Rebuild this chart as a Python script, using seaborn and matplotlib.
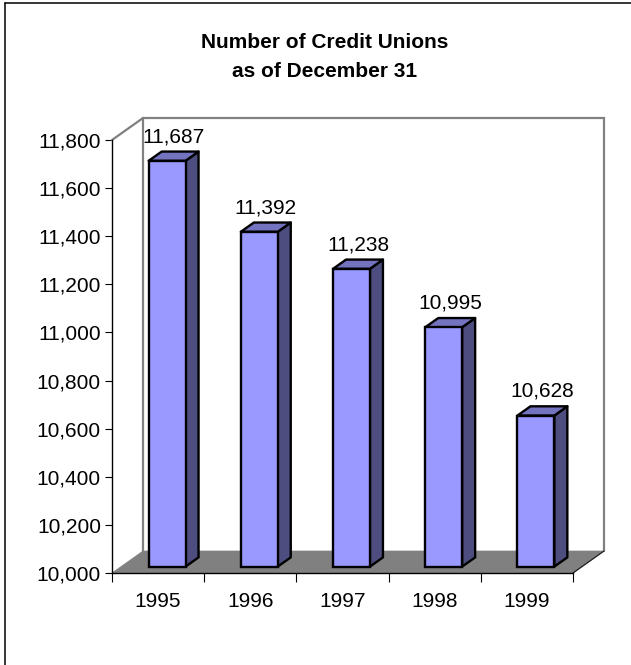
import matplotlib
matplotlib.use("Agg")
import numpy as np
import matplotlib.pyplot as plt
from matplotlib.patches import Polygon
from matplotlib.lines import Line2D
from matplotlib.transforms import Affine2D, IdentityTransform
from matplotlib.ticker import FuncFormatter
import seaborn as sns

# ---- data -------------------------------------------------------------
YEARS = ["1995", "1996", "1997", "1998", "1999"]
COUNTS = [11687, 11392, 11238, 10995, 10628]
Y_TICKS = [10000, 10200, 10400, 10600, 10800, 11000, 11200, 11400, 11600, 11800]
TITLE_LINES = ["Number of Credit Unions", "as of December 31"]

# ---- style ------------------------------------------------------------
W, H, DPI = 631, 665, 100
sns.set_theme(style="ticks")
plt.rcParams["font.family"] = ["Liberation Sans", "DejaVu Sans"]

FRONT = "#9999FF"
TOP = "#7373BF"
SIDE = "#4D4D80"
GREY = "#808080"
DEPTH = np.array([31.0, 22.0])   # pixel shift from front plane to back wall
BAR_WIDTH = 0.4
D0, D1 = 0.29, 0.71               # bar front / back depth fractions
BASE, CEIL = Y_TICKS[0], Y_TICKS[-1]
LABEL_SIZE = 15
EDGE_LW = 1.7

fig = plt.figure(figsize=(W / DPI, H / DPI), dpi=DPI)
fig.patch.set_facecolor("white")

# front plane of the 3-D box, in pixels
L, R, T, B = 112, 573, 140, 573
ax = fig.add_axes([L / W, 1 - B / H, (R - L) / W, (B - T) / H])
ax.patch.set_visible(False)

sns.barplot(x=YEARS, y=COUNTS, width=BAR_WIDTH, color=FRONT, saturation=1,
            edgecolor="black", linewidth=EDGE_LW, ax=ax, zorder=6)

ax.set_xlim(-0.5, len(YEARS) - 0.5)
ax.set_ylim(BASE, CEIL)


def proj(x, y, d):
    """Data point (x, y) pushed back to depth fraction d, in display pixels."""
    return ax.transData.transform((x, y)) + d * DEPTH


def add_poly(pts, z, **kw):
    p = Polygon(np.array(pts), closed=True, transform=IdentityTransform(),
                clip_on=False, zorder=z, **kw)
    ax.add_patch(p)


def add_line(pts, z, **kw):
    pts = np.array(pts)
    ln = Line2D(pts[:, 0], pts[:, 1], transform=IdentityTransform(),
                clip_on=False, zorder=z, **kw)
    ax.add_line(ln)


x_lo, x_hi = -0.5, len(YEARS) - 0.5

# back wall outline and the top edge of the side wall
add_line([proj(x_lo, BASE, 1), proj(x_lo, CEIL, 1), proj(x_hi, CEIL, 1),
          proj(x_hi, BASE, 1)], 1, color=GREY, lw=1.6, solid_joinstyle="miter")
add_line([proj(x_lo, CEIL, 0), proj(x_lo, CEIL, 1)], 1, color=GREY, lw=1.6)

# floor
add_poly([proj(x_lo, BASE, 0), proj(x_hi, BASE, 0), proj(x_hi, BASE, 1),
          proj(x_lo, BASE, 1)], 2, facecolor=GREY, edgecolor=GREY, lw=0.5)
add_line([proj(x_hi, BASE, 0), proj(x_hi, BASE, 1)], 2.2, color="#202020", lw=0.9)

# front faces: rest on the floor and sit at depth D0
shift = Affine2D().translate(*(D0 * DEPTH))
for patch, v in zip(ax.patches[:len(COUNTS)], COUNTS):
    patch.set_y(BASE)
    patch.set_height(v - BASE)
    patch.set_transform(ax.transData + shift)
    patch.set_clip_on(False)

# side and top faces, plus value labels
for i, v in enumerate(COUNTS):
    x0, x1 = i - BAR_WIDTH / 2, i + BAR_WIDTH / 2
    add_poly([proj(x1, BASE, D0), proj(x1, v, D0), proj(x1, v, D1),
              proj(x1, BASE, D1)], 5, facecolor=SIDE, edgecolor="black",
             lw=EDGE_LW, joinstyle="round")
    add_poly([proj(x0, v, D0), proj(x1, v, D0), proj(x1, v, D1),
              proj(x0, v, D1)], 5, facecolor=TOP, edgecolor="black",
             lw=EDGE_LW, joinstyle="round")
    ax.annotate(f"{v:,}", xy=(i, v), xytext=(0.5 * DEPTH[0], 25),
                textcoords="offset pixels", ha="center", va="baseline",
                fontsize=LABEL_SIZE, color="black", annotation_clip=False,
                zorder=8)

# axes, ticks and labels
for side in ("top", "right"):
    ax.spines[side].set_visible(False)
for side in ("left", "bottom"):
    ax.spines[side].set_color("black")
    ax.spines[side].set_linewidth(1.0)
    ax.spines[side].set_zorder(3)

ax.set_yticks(Y_TICKS)
ax.yaxis.set_major_formatter(FuncFormatter(lambda v, _: f"{int(v):,}"))
ax.tick_params(axis="y", which="major", left=True, direction="out", length=5,
               width=0.8, color="black", pad=3, labelsize=LABEL_SIZE,
               labelcolor="black")

ax.set_xticks(range(len(YEARS)))
ax.set_xticklabels(YEARS)
ax.set_xticks(np.arange(x_lo, x_hi + 0.01, 1.0), minor=True)
ax.tick_params(axis="x", which="major", bottom=True, length=0, pad=13.5,
               labelsize=LABEL_SIZE, labelcolor="black")
ax.tick_params(axis="x", which="minor", bottom=True, direction="out",
               length=6.5, width=0.8, color="black")
ax.set_xlabel("")
ax.set_ylabel("")

# title
fig.text(325 / W, 1 - 48 / H, TITLE_LINES[0], ha="center", va="baseline",
         fontsize=15, fontweight="bold", color="black")
fig.text(325 / W, 1 - 77 / H, TITLE_LINES[1], ha="center", va="baseline",
         fontsize=15, fontweight="bold", color="black")

# chart-area frame (top and left edges)
fig.add_artist(Line2D([4.5 / W, 1.0], [1 - 3 / H, 1 - 3 / H],
                      transform=fig.transFigure, color="black", lw=1.1))
fig.add_artist(Line2D([4.5 / W, 4.5 / W], [1 - 3 / H, 0.0],
                      transform=fig.transFigure, color="black", lw=1.1))

fig.savefig("out.png", dpi=DPI)
